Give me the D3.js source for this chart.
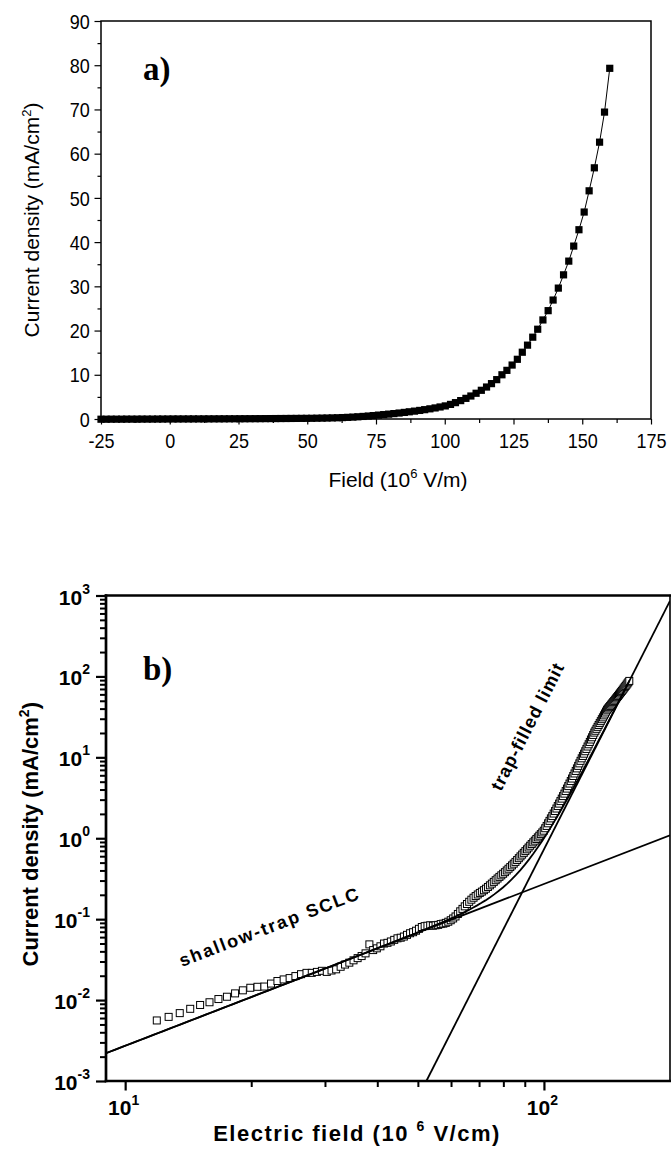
<!DOCTYPE html>
<html>
<head>
<meta charset="utf-8">
<script src="https://cdn.jsdelivr.net/npm/d3@7"></script>
<style>
  html, body { margin: 0; padding: 0; background: #fff; }
  svg { display: block; }
</style>
</head>
<body>
<svg id="chart" width="671" height="1160"></svg>
<script>
// ---------------- Panel a: J(E) on linear axes ----------------
const fieldA = [
  -25.0, -23.1, -21.3, -19.4, -17.5, -15.7, -13.8, -11.9, -10.1, -8.2,
  -6.3, -4.4, -2.6, -0.7, 1.2, 3.0, 4.9, 6.8, 8.6, 10.5,
  12.4, 14.2, 16.1, 18.0, 19.8, 21.7, 23.6, 25.5, 27.3, 29.2,
  31.1, 32.9, 34.8, 36.7, 38.5, 40.4, 42.3, 44.1, 46.0, 47.9,
  49.7, 51.6, 53.5, 55.4, 57.2, 59.1, 61.0, 62.8, 64.7, 66.6,
  68.4, 70.3, 72.2, 74.0, 75.9, 77.8, 79.6, 81.5, 83.4, 85.3,
  87.1, 89.0, 90.9, 92.7, 94.6, 96.5, 98.3, 100.2, 102.1, 103.9,
  105.8, 107.7, 109.5, 111.4, 113.3, 115.2, 117.0, 118.9, 120.8, 122.6,
  124.5, 126.4, 128.2, 130.1, 132.0, 133.8, 135.7, 137.6, 139.4, 141.3,
  143.2, 145.1, 146.9, 148.8, 150.7, 152.5, 154.4, 156.3, 158.1, 160.0
];
const currentA = [
  -0.05, -0.05, -0.04, -0.04, -0.04, -0.03, -0.03, -0.03, -0.02, -0.02,
  -0.02, -0.01, -0.01, 0.0, 0.005, 0.008, 0.011, 0.014, 0.017, 0.02,
  0.024, 0.028, 0.032, 0.036, 0.04, 0.045, 0.05, 0.055, 0.06, 0.066,
  0.072, 0.078, 0.085, 0.092, 0.099, 0.107, 0.115, 0.124, 0.133, 0.142,
  0.15, 0.16, 0.18, 0.20, 0.22, 0.25, 0.28, 0.32, 0.37, 0.43,
  0.50, 0.58, 0.67, 0.77, 0.88, 0.99, 1.10, 1.22, 1.35, 1.49,
  1.63, 1.78, 1.94, 2.11, 2.30, 2.50, 2.72, 2.96, 3.30, 3.70,
  4.16, 4.67, 5.20, 5.82, 6.49, 7.23, 8.0, 8.9, 10.0, 11.0,
  12.2, 13.5, 15.1, 16.7, 18.5, 20.3, 22.4, 24.5, 26.9, 29.6,
  32.6, 35.7, 39.1, 42.8, 46.8, 51.6, 56.8, 62.6, 69.4, 79.3
];
const xTicksA = [-25, 0, 25, 50, 75, 100, 125, 150, 175];
const xMinorA = [-12.5, 12.5, 37.5, 62.5, 87.5, 112.5, 137.5, 162.5];
const yTicksA = [0, 10, 20, 30, 40, 50, 60, 70, 80, 90];
const yMinorA = [5, 15, 25, 35, 45, 55, 65, 75, 85];

// ---------------- Panel b: same sweep on log-log axes ----------------
const fieldB = [
  11.9, 12.7, 13.5, 14.3, 15.1, 15.9, 16.7, 17.5, 18.3, 19.1,
  19.9, 20.7, 21.5, 22.3, 23.1, 23.9, 24.7, 25.5, 26.3, 27.1,
  27.9, 28.7, 29.5, 30.3, 31.1, 31.9, 32.7, 33.5, 34.3, 35.1,
  35.9, 36.7, 37.5, 38.3, 39.1, 39.9, 40.7, 41.5, 42.3, 43.1,
  43.9, 44.7, 45.5, 46.3, 47.1, 47.9, 48.7, 49.5, 50.3, 51.1,
  51.9, 52.7, 53.5, 54.3, 55.1, 55.9, 56.7, 57.5, 58.3, 59.1,
  59.9, 60.7, 61.5, 62.3, 63.1, 63.9, 64.7, 65.5, 66.3, 67.1,
  67.9, 68.7, 69.5, 70.3, 71.1, 71.9, 72.7, 73.5, 74.3, 75.1,
  75.9, 76.7, 77.5, 78.3, 79.1, 79.9, 80.7, 81.5, 82.3, 83.1,
  83.9, 84.7, 85.5, 86.3, 87.1, 87.9, 88.7, 89.5, 90.3, 91.1,
  91.9, 92.7, 93.5, 94.3, 95.1, 95.9, 96.7, 97.5, 98.3, 99.1,
  99.9, 100.7, 101.5, 102.3, 103.1, 103.9, 104.7, 105.5, 106.3, 107.1,
  107.9, 108.7, 109.5, 110.3, 111.1, 111.9, 112.7, 113.5, 114.3, 115.1,
  115.9, 116.7, 117.5, 118.3, 119.1, 119.9, 120.7, 121.5, 122.3, 123.1,
  123.9, 124.7, 125.5, 126.3, 127.1, 127.9, 128.7, 129.5, 130.3, 131.1,
  131.9, 132.7, 133.5, 134.3, 135.1, 135.9, 136.7, 137.5, 138.3, 139.1,
  139.9, 140.7, 141.5, 142.3, 143.1, 143.9, 144.7, 145.5, 146.3, 147.1,
  147.9, 148.7, 149.5, 150.3, 151.1, 151.9, 152.7, 153.5, 154.3, 155.1,
  155.9, 156.7, 157.5, 158.3, 159.1, 159.9
];
const currentB = [
  0.0056, 0.0062, 0.0069, 0.0078, 0.0087, 0.0094, 0.0103, 0.0110, 0.0121, 0.0132,
  0.0142, 0.0146, 0.0147, 0.0160, 0.0172, 0.0180, 0.0187, 0.0198, 0.0209, 0.0217,
  0.0217, 0.0223, 0.0230, 0.0223, 0.0232, 0.0240, 0.0258, 0.0275, 0.0290, 0.0310,
  0.0330, 0.0350, 0.0378, 0.0488, 0.0415, 0.0436, 0.0462, 0.0500, 0.0510, 0.0530,
  0.0555, 0.0580, 0.0590, 0.0610, 0.0640, 0.0670, 0.0690, 0.0720, 0.0760, 0.0800,
  0.0820, 0.0830, 0.0840, 0.0830, 0.0840, 0.0850, 0.0870, 0.0880, 0.0900, 0.0930,
  0.0970, 0.102, 0.108, 0.116, 0.125, 0.134, 0.144, 0.154, 0.164, 0.174,
  0.184, 0.193, 0.202, 0.211, 0.219, 0.228, 0.238, 0.250, 0.262, 0.275,
  0.289, 0.303, 0.318, 0.333, 0.348, 0.364, 0.381, 0.400, 0.420, 0.440,
  0.462, 0.485, 0.510, 0.538, 0.567, 0.597, 0.628, 0.660, 0.694, 0.730,
  0.768, 0.808, 0.848, 0.890, 0.933, 0.978, 1.025, 1.075, 1.125, 1.180,
  1.240, 1.33, 1.42, 1.53, 1.64, 1.76, 1.88, 2.02, 2.17, 2.33,
  2.50, 2.68, 2.88, 3.09, 3.32, 3.56, 3.83, 4.11, 4.41, 4.74,
  5.09, 5.47, 5.88, 6.32, 6.79, 7.30, 7.84, 8.42, 9.05, 9.72,
  10.4, 11.1, 11.9, 12.7, 13.6, 14.5, 15.5, 16.6, 17.7, 18.9,
  20.2, 21.3, 22.5, 23.8, 25.1, 26.5, 28.0, 29.6, 31.2, 33.0,
  34.8, 36.8, 38.8, 40.2, 41.7, 43.2, 44.8, 46.4, 48.1, 49.8,
  51.6, 53.5, 55.4, 57.4, 59.5, 61.7, 63.9, 66.2, 68.6, 71.1,
  73.7, 76.3, 79.1, 82.0, 84.9, 88.0
];
// power-law fits: log10(J) = slope * log10(E) + intercept
const fitShallow = { slope: 2.0, intercept: -4.565 };
const fitTrap = { slope: 10.2, intercept: -20.537 };
const xTicksB = [10, 100];
const xMinorB = [20, 30, 40, 50, 60, 70, 80, 90];
const yTicksB = [1e-3, 1e-2, 1e-1, 1e0, 1e1, 1e2, 1e3];
const minorMultipliers = [2, 3, 4, 5, 6, 7, 8, 9];

// ---------------- drawing ----------------
const svg = d3.select('#chart');
const sans = '"Liberation Sans", Arial, Helvetica, sans-serif';
const serif = '"Liberation Serif", "Times New Roman", serif';

function cleanAxis(g, w) {
  g.select('.domain').remove();
  g.selectAll('.tick line').attr('stroke', '#000').attr('stroke-width', w);
}

/* ===== panel a ===== */
const pa = { left: 101, right: 651, top: 21, bottom: 419 };
const xA = d3.scaleLinear().domain([-25, 175]).range([pa.left, pa.right]);
const yA = d3.scaleLinear().domain([0, 90]).range([pa.bottom, pa.top]);
const gA = svg.append('g');

gA.append('g').attr('transform', `translate(0,${pa.bottom})`)
  .call(d3.axisBottom(xA).tickValues(xMinorA).tickSize(4).tickFormat(''))
  .call(g => cleanAxis(g, 1.2));
gA.append('g').attr('transform', `translate(0,${pa.bottom})`)
  .call(d3.axisBottom(xA).tickValues(xTicksA).tickSize(5.5).tickFormat(d => String(d)))
  .call(g => cleanAxis(g, 1.2))
  .call(g => g.selectAll('.tick text')
    .attr('y', 29).attr('dy', null)
    .attr('transform', 'scale(0.9,1)')
    .attr('fill', '#000')
    .style('font-family', sans).style('font-size', '20px'));

gA.append('g').attr('transform', `translate(${pa.left},0)`)
  .call(d3.axisLeft(yA).tickValues(yMinorA).tickSize(3.5).tickFormat(''))
  .call(g => cleanAxis(g, 1.2));
gA.append('g').attr('transform', `translate(${pa.left},0)`)
  .call(d3.axisLeft(yA).tickValues(yTicksA).tickSize(6.5).tickFormat(d => String(d)))
  .call(g => cleanAxis(g, 1.2))
  .call(g => g.selectAll('.tick text')
    .attr('x', -12.5).attr('dy', '0.36em')
    .attr('transform', 'scale(0.9,1)')
    .attr('fill', '#000')
    .style('font-family', sans).style('font-size', '20px'));

gA.append('rect')
  .attr('x', pa.left).attr('y', pa.top)
  .attr('width', pa.right - pa.left).attr('height', pa.bottom - pa.top)
  .attr('fill', 'none').attr('stroke', '#000').attr('stroke-width', 1.5);

const ptsA = fieldA.map((e, i) => [e, currentA[i]]);
gA.append('path')
  .datum(ptsA)
  .attr('d', d3.line().x(d => xA(d[0])).y(d => yA(d[1])))
  .attr('fill', 'none').attr('stroke', '#000').attr('stroke-width', 1);
const sqA = 7.2;
gA.append('g').selectAll('rect').data(ptsA).join('rect')
  .attr('x', d => xA(d[0]) - sqA / 2).attr('y', d => yA(d[1]) - sqA / 2)
  .attr('width', sqA).attr('height', sqA).attr('fill', '#000');

// axis titles
const ytA = gA.append('text')
  .attr('transform', `translate(39,${(pa.top + pa.bottom) / 2}) rotate(-90)`)
  .attr('text-anchor', 'middle')
  .style('font-family', sans).style('font-size', '21px').attr('fill', '#000');
ytA.append('tspan').text('Current density (mA/cm');
ytA.append('tspan').text('2').attr('dy', -8).style('font-size', '13px');
ytA.append('tspan').text(')').attr('dy', 8);

const xtA = gA.append('text')
  .attr('x', 398).attr('y', 487)
  .attr('text-anchor', 'middle')
  .style('font-family', sans).style('font-size', '21px').attr('fill', '#000');
xtA.append('tspan').text('Field (10');
xtA.append('tspan').text('6').attr('dy', -9).style('font-size', '13px');
xtA.append('tspan').text(' V/m)').attr('dy', 9);

gA.append('text').attr('x', 143).attr('y', 80)
  .style('font-family', serif).style('font-weight', 'bold').style('font-size', '33px')
  .attr('fill', '#000').text('a)');

/* ===== panel b ===== */
const pb = { left: 106, right: 670, top: 595.5, bottom: 1081 };
const xB = d3.scaleLog().domain([9, 200]).range([pb.left, pb.right]);
const yB = d3.scaleLog().domain([1e-3, 1e3]).range([pb.bottom, pb.top]);
const gB = svg.append('g');

const yMinorB = [];
yTicksB.slice(0, -1).forEach(dec => minorMultipliers.forEach(m => yMinorB.push(dec * m)));

function powLabel(sel, sup, supSize) {
  sel.each(function (d) {
    const t = d3.select(this);
    const ex = Math.round(Math.log10(d));
    t.text(null);
    t.append('tspan').text('10');
    t.append('tspan').text(String(ex)).attr('dy', sup).style('font-size', supSize);
  });
}

gB.append('g').attr('transform', `translate(0,${pb.bottom})`)
  .call(d3.axisBottom(xB).tickValues(xMinorB).tickSize(6).tickFormat(''))
  .call(g => cleanAxis(g, 2));
gB.append('g').attr('transform', `translate(0,${pb.bottom})`)
  .call(d3.axisBottom(xB).tickValues(xTicksB).tickSize(9.5).tickFormat(d => d))
  .call(g => cleanAxis(g, 2.2))
  .call(g => g.selectAll('.tick text')
    .attr('y', 34).attr('dy', null).attr('x', -2)
    .attr('fill', '#000')
    .style('font-family', sans).style('font-weight', 'bold').style('font-size', '21px')
    .call(powLabel, -10, '14px'));

gB.append('g').attr('transform', `translate(${pb.left},0)`)
  .call(d3.axisLeft(yB).tickValues(yMinorB).tickSize(6).tickFormat(''))
  .call(g => cleanAxis(g, 2));
gB.append('g').attr('transform', `translate(${pb.left},0)`)
  .call(d3.axisLeft(yB).tickValues(yTicksB).tickSize(10).tickFormat(d => d))
  .call(g => cleanAxis(g, 2.2))
  .call(g => g.selectAll('.tick text')
    .attr('x', -16).attr('y', 8.5).attr('dy', null)
    .attr('fill', '#000')
    .style('font-family', sans).style('font-weight', 'bold').style('font-size', '21px')
    .call(powLabel, -11, '14px'));

// frame
const frame = gB.append('g').attr('stroke', '#000').attr('stroke-linecap', 'square');
frame.append('line').attr('x1', pb.left).attr('x2', pb.right).attr('y1', pb.top).attr('y2', pb.top).attr('stroke-width', 2.5);
frame.append('line').attr('x1', pb.right).attr('x2', pb.right).attr('y1', pb.top).attr('y2', pb.bottom).attr('stroke-width', 1.6);
frame.append('line').attr('x1', pb.left).attr('x2', pb.right).attr('y1', pb.bottom).attr('y2', pb.bottom).attr('stroke-width', 2.5);
frame.append('line').attr('x1', pb.left).attr('x2', pb.left).attr('y1', pb.top).attr('y2', pb.bottom).attr('stroke-width', 2.7);

svg.append('defs').append('clipPath').attr('id', 'clipB')
  .append('rect').attr('x', pb.left).attr('y', pb.top)
  .attr('width', pb.right - pb.left).attr('height', pb.bottom - pb.top);

const plotB = gB.append('g').attr('clip-path', 'url(#clipB)');

// measured points: open squares
const ptsB = fieldB.map((e, i) => [e, currentB[i]]);
const sqB = 7;
plotB.append('g').selectAll('rect').data(ptsB).join('rect')
  .attr('x', d => xB(d[0]) - sqB / 2).attr('y', d => yB(d[1]) - sqB / 2)
  .attr('width', sqB).attr('height', sqB)
  .attr('fill', '#fff').attr('stroke', '#000').attr('stroke-width', 1);

// fit lines
const law = f => e => Math.pow(10, f.slope * Math.log10(e) + f.intercept);
const shallow = law(fitShallow);
const trap = law(fitTrap);
const lineB = d3.line().x(d => xB(d[0])).y(d => yB(d[1]));
const eTrapStart = Math.pow(10, (Math.log10(1e-3) - fitTrap.intercept) / fitTrap.slope);

plotB.append('path')
  .datum([9, 200].map(e => [e, shallow(e)]))
  .attr('d', lineB).attr('fill', 'none').attr('stroke', '#000').attr('stroke-width', 1.8);
plotB.append('path')
  .datum([eTrapStart, 200].map(e => [e, trap(e)]))
  .attr('d', lineB).attr('fill', 'none').attr('stroke', '#000').attr('stroke-width', 1.8);
// combined fit (sum of both regimes) over the measured range
const fitE = d3.range(0, 121).map(k => 9 * Math.pow(160 / 9, k / 120));
plotB.append('path')
  .datum(fitE.map(e => [e, shallow(e) + trap(e)]))
  .attr('d', lineB).attr('fill', 'none').attr('stroke', '#000').attr('stroke-width', 1.8);

// annotations
gB.append('text')
  .attr('transform', 'translate(182,967) rotate(-21)')
  .style('font-family', sans).style('font-weight', 'bold').style('font-size', '18px')
  .style('letter-spacing', '1.9px').attr('fill', '#000')
  .text('shallow-trap SCLC');
gB.append('text')
  .attr('transform', 'translate(501,792) rotate(-63)')
  .style('font-family', sans).style('font-weight', 'bold').style('font-size', '18px')
  .style('letter-spacing', '1px').attr('fill', '#000')
  .text('trap-filled limit');

gB.append('text').attr('x', 143).attr('y', 680)
  .style('font-family', serif).style('font-weight', 'bold').style('font-size', '33px')
  .attr('fill', '#000').text('b)');

// axis titles
const ytB = gB.append('text')
  .attr('transform', `translate(38,${(pb.top + pb.bottom) / 2 - 4}) rotate(-90)`)
  .attr('text-anchor', 'middle')
  .style('font-family', sans).style('font-weight', 'bold').style('font-size', '22px')
  .attr('fill', '#000');
ytB.append('tspan').text('Current density (mA/cm');
ytB.append('tspan').text('2').attr('dy', -9).style('font-size', '14px');
ytB.append('tspan').text(')').attr('dy', 9);

const xtB = gB.append('text')
  .attr('x', 357).attr('y', 1141)
  .attr('text-anchor', 'middle')
  .style('font-family', sans).style('font-weight', 'bold').style('font-size', '22px')
  .style('letter-spacing', '1.5px').attr('fill', '#000');
xtB.append('tspan').text('Electric field (10 ');
xtB.append('tspan').text('6').attr('dy', -10).style('font-size', '14px');
xtB.append('tspan').text(' V/cm)').attr('dy', 10);
</script>
</body>
</html>
